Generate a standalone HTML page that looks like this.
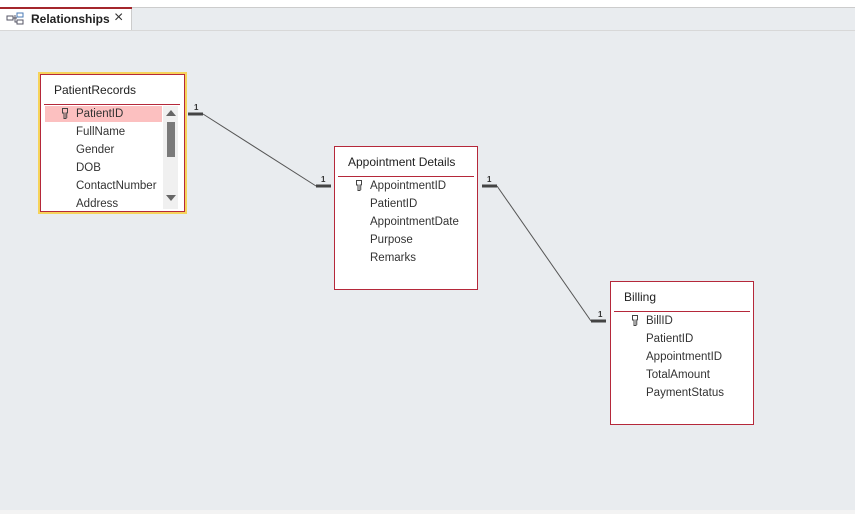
<!DOCTYPE html>
<html><head><meta charset="utf-8"><style>
*{margin:0;padding:0;box-sizing:border-box}
body{width:855px;height:514px;background:#e9ecef;font-family:"Liberation Sans",sans-serif;position:relative;overflow:hidden}
.a{position:absolute}
.tbl{position:absolute;background:#fff;border:1px solid #b5283a}
.t{position:absolute;font-size:12px;color:#222}
.f{position:absolute;font-size:11.5px;color:#333}
.ln{position:absolute;height:1px;background:#b5283a}
</style></head><body>
<div class="a" style="left:0;top:0;width:855px;height:8px;background:#fff;border-bottom:1px solid #ccc"></div>
<div class="a" style="left:0;top:7px;width:132px;height:24px;background:#fff;border-right:1px solid #ccc"></div>
<div class="a" style="left:0;top:7px;width:132px;height:2px;background:#a4262c"></div>
<div class="a" style="left:0;top:30px;width:855px;height:1px;background:#d8d8d8"></div>
<svg class="a" style="left:6px;top:12px" width="18" height="14"><rect x="1" y="4" width="6" height="4" fill="none" stroke="#556"/><rect x="11" y="1" width="6" height="4" fill="none" stroke="#4a7ab5"/><rect x="11" y="8" width="6" height="4" fill="none" stroke="#556"/><path d="M7 6H11M9 3V10H11" stroke="#556" fill="none"/></svg>
<div class="a" style="left:31px;top:12px;font-size:12px;font-weight:bold;color:#222">Relationships</div>
<div class="a" style="left:114px;top:9px;font-size:16px;color:#333">×</div>

<!-- PatientRecords -->
<div class="a" style="left:38px;top:72px;width:149px;height:142px;border:2px solid #f6d35a"></div>
<div class="tbl" style="left:40px;top:74px;width:145px;height:138px"></div>
<div class="t" style="left:54px;top:83px">PatientRecords</div>
<div class="ln" style="left:44px;top:104px;width:136px"></div>
<div class="a" style="left:45px;top:106px;width:117px;height:16px;background:#fcc0c0"></div>
<svg class="a" style="left:62px;top:108px" width="6" height="11"><path d="M0.5 0.5H5.5V5H4V10.5H2V5H0.5Z" fill="none" stroke="#444"/><path d="M4 7H5.5M4 9H5.5" stroke="#444"/></svg>
<div class="f" style="left:76px;top:108px">PatientID</div>
<div class="f" style="left:76px;top:126px">FullName</div>
<div class="f" style="left:76px;top:144px">Gender</div>
<div class="f" style="left:76px;top:162px">DOB</div>
<div class="f" style="left:76px;top:180px">ContactNumber</div>
<div class="a" style="left:45px;top:196px;width:117px;height:13px;overflow:hidden"><div class="f" style="left:31px;top:2px">Address</div></div>
<div class="a" style="left:163px;top:106px;width:15px;height:103px;background:#f0f0f0"></div>
<svg class="a" style="left:165px;top:108px" width="12" height="100"><path d="M1 8L6 2L11 8Z" fill="#666"/><rect x="2" y="14" width="8" height="35" fill="#7a7a7a"/><path d="M1 87L6 93L11 87Z" fill="#666"/></svg>

<!-- Appointment Details -->
<div class="tbl" style="left:334px;top:146px;width:144px;height:144px"></div>
<div class="t" style="left:348px;top:155px">Appointment Details</div>
<div class="ln" style="left:338px;top:176px;width:136px"></div>
<svg class="a" style="left:356px;top:180px" width="6" height="11"><path d="M0.5 0.5H5.5V5H4V10.5H2V5H0.5Z" fill="none" stroke="#444"/><path d="M4 7H5.5M4 9H5.5" stroke="#444"/></svg>
<div class="f" style="left:370px;top:180px">AppointmentID</div>
<div class="f" style="left:370px;top:198px">PatientID</div>
<div class="f" style="left:370px;top:216px">AppointmentDate</div>
<div class="f" style="left:370px;top:234px">Purpose</div>
<div class="f" style="left:370px;top:252px">Remarks</div>

<!-- Billing -->
<div class="tbl" style="left:610px;top:281px;width:144px;height:144px"></div>
<div class="t" style="left:624px;top:290px">Billing</div>
<div class="ln" style="left:614px;top:311px;width:136px"></div>
<svg class="a" style="left:632px;top:315px" width="6" height="11"><path d="M0.5 0.5H5.5V5H4V10.5H2V5H0.5Z" fill="none" stroke="#444"/><path d="M4 7H5.5M4 9H5.5" stroke="#444"/></svg>
<div class="f" style="left:646px;top:315px">BillID</div>
<div class="f" style="left:646px;top:333px">PatientID</div>
<div class="f" style="left:646px;top:351px">AppointmentID</div>
<div class="f" style="left:646px;top:369px">TotalAmount</div>
<div class="f" style="left:646px;top:387px">PaymentStatus</div>

<svg class="a" style="left:0;top:0" width="855" height="514">
<g stroke="#555" stroke-width="1" fill="none">
<path d="M203 114L316 186"/><path d="M497 186L591 321"/>
</g>
<g stroke="#444" stroke-width="3">
<path d="M188 114H203"/><path d="M316 186H331"/><path d="M482 186H497"/><path d="M591 321H606"/>
</g>
<g font-family="Liberation Sans" font-size="8" font-weight="bold" fill="#333">
<text x="194" y="110">1</text><text x="321" y="182">1</text><text x="487" y="182">1</text><text x="598" y="317">1</text>
</g>
</svg>
<div class="a" style="left:0;top:510px;width:855px;height:4px;background:#f3f3f3"></div>
</body></html>
